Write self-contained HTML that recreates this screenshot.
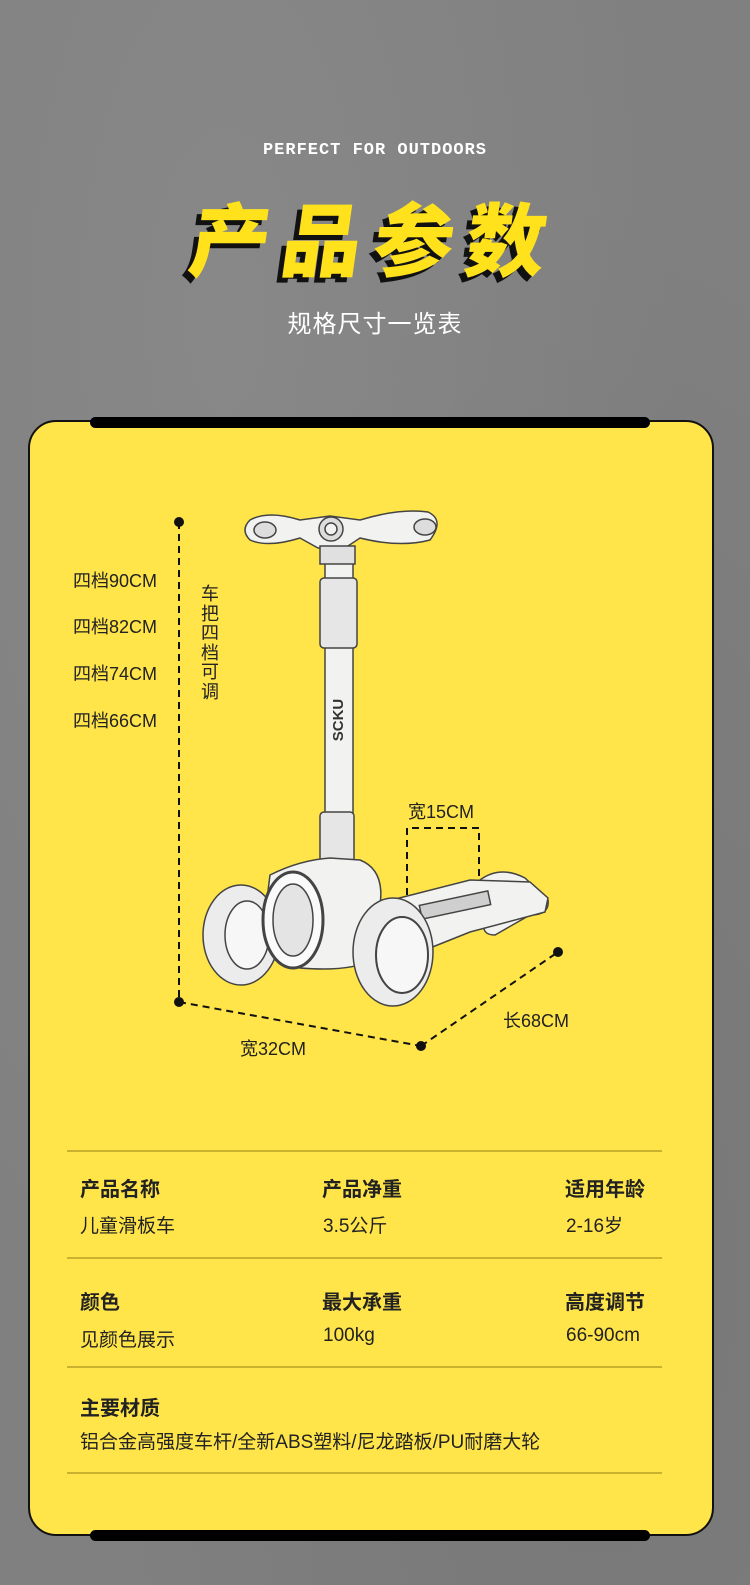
<!DOCTYPE html>
<html><head><meta charset="utf-8">
<style>
*{margin:0;padding:0;box-sizing:border-box}
body{width:750px;height:1585px;position:relative;overflow:hidden;background:#808080;font-family:"Liberation Sans","Noto Sans CJK SC",sans-serif;}
.bg{position:absolute;inset:0;background:radial-gradient(ellipse at 30% 20%,#888 0%,rgba(0,0,0,0) 60%),radial-gradient(ellipse at 80% 80%,#777 0%,rgba(0,0,0,0) 60%);}
.abs{position:absolute}
.perfect{left:0;width:750px;top:141px;text-align:center;color:#fff;font-weight:bold;font-size:17px;letter-spacing:1px;font-family:"Liberation Mono",monospace}
.title{left:0;width:750px;top:186px;text-align:center;font-size:80px;font-weight:900;color:#ffe11c;letter-spacing:12px;font-family:"Noto Sans CJK SC",sans-serif;text-shadow:-5px 5px 0 #111;transform:skewX(-8deg);line-height:100px}
.sub{left:0;width:750px;top:304px;text-align:center;color:#fff;font-size:24px;letter-spacing:1px}
.card{left:28px;top:420px;width:686px;height:1116px;background:#ffe44a;border:2px solid #111;border-radius:28px}
.bar{left:90px;width:560px;height:11px;background:#000;border-radius:6px}
.lbl{font-size:18px;color:#222}
.h{font-size:20px;font-weight:bold;color:#222}
.v{font-size:19px;color:#222}
.line{left:67px;width:595px;height:2px;background:#c8b22e}
.vt{left:199px;top:585px;width:22px;font-size:18px;line-height:19.5px;color:#222;text-align:center}
</style></head><body>
<div class="bg"></div>
<div class="abs perfect">PERFECT FOR OUTDOORS</div>
<div class="abs title">产品参数</div>
<div class="abs sub">规格尺寸一览表</div>
<div class="abs card"></div>
<div class="abs bar" style="top:417px"></div>
<div class="abs bar" style="top:1530px"></div>

<div class="abs lbl" style="left:73px;top:567px">四档90CM</div>
<div class="abs lbl" style="left:73px;top:613px">四档82CM</div>
<div class="abs lbl" style="left:73px;top:660px">四档74CM</div>
<div class="abs lbl" style="left:73px;top:707px">四档66CM</div>
<div class="abs vt">车把四档可调</div>
<div class="abs lbl" style="left:408px;top:798px">宽15CM</div>
<div class="abs lbl" style="left:503px;top:1007px">长68CM</div>
<div class="abs lbl" style="left:240px;top:1035px">宽32CM</div>

<svg class="abs" style="left:0;top:0" width="750" height="1585">
<g stroke="#111" stroke-width="2" stroke-dasharray="7,5" fill="none">
<line x1="179" y1="522" x2="179" y2="1002"/>
<line x1="179" y1="1002" x2="421" y2="1046"/>
<line x1="421" y1="1046" x2="558" y2="952"/>
<polyline points="407,895 407,828 479,828 479,905"/>
</g>
<g fill="#111"><circle cx="179" cy="522" r="5"/><circle cx="179" cy="1002" r="5"/><circle cx="421" cy="1046" r="5"/><circle cx="558" cy="952" r="5"/></g>
<g stroke="#444" stroke-width="1.5" fill="#f2f2f0">
<path d="M480 880 Q500 865 525 878 L548 900 Q550 915 530 915 L495 935 Q480 935 485 920 Z"/>
<path d="M372 905 L470 880 L530 882 L548 898 L545 912 L470 932 L400 960 Z"/>
<rect x="420" y="898" width="70" height="14" fill="#cfcfcf" transform="rotate(-12 455 905)"/>
<rect x="325" y="560" width="28" height="310" rx="3"/>
<rect x="320" y="578" width="37" height="70" rx="4" fill="#e6e6e6"/>
<rect x="320" y="812" width="34" height="50" rx="4" fill="#e6e6e6"/>
<path d="M250 520 Q268 510 300 520 L330 516 L360 520 Q400 508 428 512 Q445 520 430 540 Q400 548 360 538 L345 548 L318 548 L300 538 Q268 548 250 540 Q240 530 250 520 Z"/>
<ellipse cx="265" cy="530" rx="11" ry="8" fill="#ddd"/>
<ellipse cx="425" cy="527" rx="11" ry="8" fill="#ddd"/>
<circle cx="331" cy="529" r="12" fill="#ddd"/>
<circle cx="331" cy="529" r="6"/>
<rect x="320" y="546" width="35" height="18" fill="#e0e0e0"/>
<path d="M270 875 Q300 860 330 858 L360 860 Q385 870 380 905 L372 960 Q350 972 300 968 L260 955 Z"/>
<ellipse cx="241" cy="935" rx="38" ry="50" fill="#ececec"/>
<ellipse cx="247" cy="935" rx="22" ry="34" fill="#f7f7f7"/>
<ellipse cx="293" cy="920" rx="30" ry="48" fill="#fafafa" stroke-width="3"/>
<ellipse cx="293" cy="920" rx="20" ry="36" fill="#e4e4e4"/>
<ellipse cx="393" cy="952" rx="40" ry="54" fill="#ececec"/>
<ellipse cx="402" cy="955" rx="26" ry="38" fill="#f7f7f7" stroke-width="2"/>
</g>
<text x="343" y="720" transform="rotate(-90 343 720)" font-family="Liberation Sans" font-size="15" font-weight="bold" fill="#333" text-anchor="middle">SCKU</text>
</svg>

<div class="abs line" style="top:1150px"></div>
<div class="abs line" style="top:1257px"></div>
<div class="abs line" style="top:1366px"></div>
<div class="abs line" style="top:1472px"></div>

<div class="abs h" style="left:80px;top:1173px">产品名称</div>
<div class="abs h" style="left:322px;top:1173px">产品净重</div>
<div class="abs h" style="left:565px;top:1173px">适用年龄</div>
<div class="abs v" style="left:80px;top:1211px">儿童滑板车</div>
<div class="abs v" style="left:323px;top:1211px">3.5公斤</div>
<div class="abs v" style="left:566px;top:1211px">2-16岁</div>

<div class="abs h" style="left:80px;top:1286px">颜色</div>
<div class="abs h" style="left:322px;top:1286px">最大承重</div>
<div class="abs h" style="left:565px;top:1286px">高度调节</div>
<div class="abs v" style="left:80px;top:1325px">见颜色展示</div>
<div class="abs v" style="left:323px;top:1325px">100kg</div>
<div class="abs v" style="left:566px;top:1325px">66-90cm</div>

<div class="abs h" style="left:80px;top:1392px">主要材质</div>
<div class="abs v" style="left:80px;top:1427px">铝合金高强度车杆/全新ABS塑料/尼龙踏板/PU耐磨大轮</div>
</body></html>
